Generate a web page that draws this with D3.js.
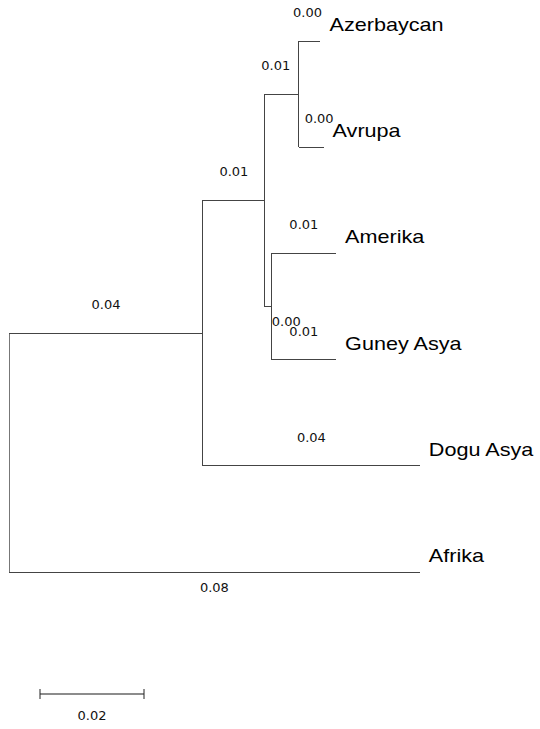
<!DOCTYPE html>
<html>
<head>
<meta charset="utf-8">
<script src="https://cdn.jsdelivr.net/npm/d3@7"></script>
<style>
  html, body { margin: 0; padding: 0; background: #fff; }
  svg { display: block; }
</style>
</head>
<body>
<svg id="chart" width="540" height="729"></svg>
<script>
// ---- Data: tree topology (Newick-like) and branch lengths ----
const taxa = ["Azerbaycan", "Avrupa", "Amerika", "Guney Asya", "Dogu Asya", "Afrika"];
const nodeNames = ["root", "A", "B", "AzAv", "C", "Azerbaycan", "Avrupa", "Amerika", "Guney Asya", "Dogu Asya", "Afrika"];
const parents   = [null,   "root", "A", "B",   "B", "AzAv",       "AzAv",   "C",       "C",          "A",         "root"];
const branchLengths = [0,  0.0373, 0.0119, 0.0065, 0.0013, 0.0042, 0.0048, 0.0124, 0.0124, 0.0417, 0.0790];
const scaleBarValue = 0.02;

// ---- Layout ----
const svg = d3.select("#chart");
const originX = 9;
const leafTop = 41, leafStep = 106.2;
const x = d3.scaleLinear().domain([0, scaleBarValue]).range([originX, originX + 104]);

const table = nodeNames.map((n, i) => ({ name: n, parent: parents[i], length: branchLengths[i] }));
const root = d3.stratify().id(d => d.name).parentId(d => d.parent)(table);
root.each(d => {
  d.depthLen = (d.parent ? d.parent.depthLen : 0) + d.data.length;
});
const leaves = root.leaves().sort((a, b) => taxa.indexOf(a.id) - taxa.indexOf(b.id));
const yLeaf = d3.scalePoint().domain(taxa).range([leafTop, leafTop + leafStep * (taxa.length - 1)]);
root.eachAfter(d => {
  if (!d.children) d.y = yLeaf(d.id);
  else d.y = (d3.min(d.children, c => c.y) + d3.max(d.children, c => c.y)) / 2;
  d.x = x(d.depthLen);
});

const lineColor = "#444";
const g = svg.append("g");

// vertical connectors
root.each(d => {
  if (d.children) {
    g.append("line")
      .attr("x1", d.x).attr("x2", d.x)
      .attr("y1", d3.min(d.children, c => c.y))
      .attr("y2", d3.max(d.children, c => c.y))
      .attr("stroke", d === root ? "#777" : lineColor)
      .attr("stroke-width", 1)
      .attr("shape-rendering", "crispEdges");
  }
});
// horizontal branches
root.descendants().filter(d => d.parent).forEach(d => {
  g.append("line")
    .attr("x1", d.parent.x).attr("x2", d.x)
    .attr("y1", d.y).attr("y2", d.y)
    .attr("stroke", lineColor)
    .attr("stroke-width", 1)
    .attr("shape-rendering", "crispEdges");
});

// branch length labels
const labelTweak = { // placement tweaks (layout only)
  "Afrika": { below: true },
  "C": { below: true, dx: 18, dy: -1 },
  "AzAv": { dx: -6 },
  "Avrupa": { dx: 8 },
  "Azerbaycan": { dx: -2 }
};
const fmt = d3.format(".2f");
root.descendants().filter(d => d.parent).forEach(d => {
  const t = labelTweak[d.id] || {};
  const mx = (d.parent.x + d.x) / 2 + (t.dx || 0);
  const my = (t.below ? d.y + 20 : d.y - 24) + (t.dy || 0);
  g.append("text")
    .attr("x", mx).attr("y", my)
    .attr("text-anchor", "middle")
    .attr("font-family", "'DejaVu Sans', Verdana, sans-serif")
    .attr("font-size", 13)
    .attr("fill", "#111")
    .text(fmt(d.data.length));
});

// taxon labels
leaves.forEach(d => {
  g.append("text")
    .attr("transform", `translate(${d.x + 9},${d.y - 10}) scale(1.2,1)`)
    .attr("font-family", "'Liberation Sans', Arial, sans-serif")
    .attr("font-size", 18)
    .attr("fill", "#000")
    .text(d.id);
});

// scale bar
const sbY = 694, sbX0 = 40;
const sbLen = x(scaleBarValue) - x(0);
const sb = svg.append("g");
sb.append("line").attr("x1", sbX0).attr("x2", sbX0 + sbLen).attr("y1", sbY).attr("y2", sbY)
  .attr("stroke", "#666").attr("stroke-width", 1.5);
[sbX0, sbX0 + sbLen].forEach(px => {
  sb.append("line").attr("x1", px).attr("x2", px).attr("y1", sbY - 5).attr("y2", sbY + 5)
    .attr("stroke", "#222").attr("stroke-width", 1);
});
sb.append("text")
  .attr("x", sbX0 + sbLen / 2).attr("y", 720)
  .attr("text-anchor", "middle")
  .attr("font-family", "'DejaVu Sans', Verdana, sans-serif")
  .attr("font-size", 13)
  .attr("fill", "#111")
  .text(fmt(scaleBarValue));
</script>
</body>
</html>
